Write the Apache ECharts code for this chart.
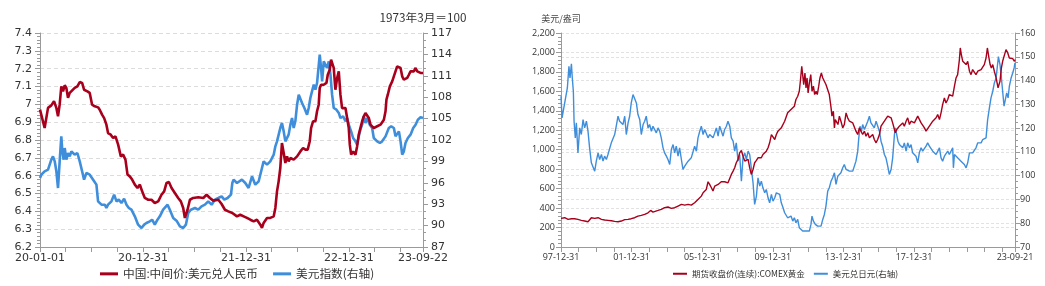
<!DOCTYPE html>
<html><head><meta charset="utf-8">
<script src="https://cdn.jsdelivr.net/npm/echarts@6/dist/echarts.min.js"></script>
<style>html,body{margin:0;padding:0;background:#fff}#c{width:1045px;height:286px}</style>
</head><body><div id="c"></div>
<script>
// ---- Left chart: CNY central parity (left axis) and US dollar index (right axis); x = decimal year
const cnyData = [[2020.00,6.97],[2020.045,6.867],[2020.078,6.98],[2020.11,6.994],[2020.136,7.017],[2020.159,6.98],[2020.175,6.933],[2020.191,6.998],[2020.207,7.101],[2020.224,7.073],[2020.24,7.107],[2020.256,7.092],[2020.272,7.036],[2020.289,7.064],[2020.305,7.073],[2020.337,7.092],[2020.363,7.101],[2020.386,7.125],[2020.409,7.12],[2020.428,7.082],[2020.46,7.073],[2020.483,7.064],[2020.506,6.998],[2020.532,6.989],[2020.564,6.983],[2020.58,6.97],[2020.603,6.942],[2020.623,6.923],[2020.645,6.886],[2020.661,6.839],[2020.687,6.83],[2020.71,6.811],[2020.733,6.82],[2020.759,6.774],[2020.785,6.708],[2020.807,6.718],[2020.83,6.69],[2020.85,6.606],[2020.872,6.596],[2020.895,6.578],[2020.921,6.55],[2020.947,6.531],[2020.97,6.55],[2020.992,6.512],[2021.018,6.475],[2021.051,6.465],[2021.083,6.465],[2021.115,6.447],[2021.148,6.456],[2021.18,6.493],[2021.206,6.512],[2021.229,6.559],[2021.252,6.564],[2021.278,6.531],[2021.31,6.503],[2021.342,6.475],[2021.368,6.456],[2021.391,6.419],[2021.407,6.363],[2021.433,6.409],[2021.456,6.465],[2021.488,6.475],[2021.537,6.479],[2021.586,6.475],[2021.618,6.493],[2021.65,6.475],[2021.683,6.46],[2021.732,6.465],[2021.764,6.441],[2021.796,6.409],[2021.829,6.4],[2021.868,6.391],[2021.913,6.372],[2021.945,6.381],[2021.978,6.372],[2022.01,6.363],[2022.043,6.353],[2022.075,6.344],[2022.107,6.353],[2022.14,6.325],[2022.156,6.307],[2022.172,6.335],[2022.205,6.363],[2022.237,6.363],[2022.27,6.372],[2022.286,6.419],[2022.302,6.512],[2022.318,6.568],[2022.334,6.643],[2022.35,6.783],[2022.367,6.727],[2022.383,6.671],[2022.399,6.708],[2022.415,6.68],[2022.432,6.699],[2022.464,6.69],[2022.497,6.708],[2022.513,6.718],[2022.529,6.736],[2022.555,6.755],[2022.578,6.746],[2022.6,6.746],[2022.62,6.793],[2022.633,6.867],[2022.652,6.905],[2022.675,6.905],[2022.691,6.961],[2022.707,6.998],[2022.717,7.092],[2022.73,7.11],[2022.756,7.11],[2022.782,7.12],[2022.795,7.166],[2022.814,7.194],[2022.827,7.25],[2022.837,7.25],[2022.853,7.204],[2022.869,7.082],[2022.886,7.148],[2022.902,7.185],[2022.918,7.054],[2022.934,6.979],[2022.95,6.97],[2022.967,6.979],[2022.983,6.97],[2022.999,6.867],[2023.009,6.774],[2023.022,6.718],[2023.041,6.736],[2023.064,6.718],[2023.08,6.764],[2023.096,6.83],[2023.112,6.867],[2023.129,6.905],[2023.145,6.933],[2023.161,6.951],[2023.177,6.942],[2023.194,6.923],[2023.21,6.886],[2023.226,6.877],[2023.242,6.867],[2023.275,6.877],[2023.307,6.886],[2023.323,6.886],[2023.34,6.914],[2023.356,6.961],[2023.365,7.026],[2023.378,7.054],[2023.398,7.101],[2023.421,7.129],[2023.437,7.157],[2023.453,7.185],[2023.469,7.213],[2023.486,7.222],[2023.502,7.204],[2023.518,7.157],[2023.534,7.138],[2023.567,7.148],[2023.583,7.166],[2023.599,7.185],[2023.615,7.194],[2023.631,7.185],[2023.648,7.204],[2023.664,7.185],[2023.68,7.194],[2023.696,7.176],[2023.72,7.176]];

const dxyData = [[2020.0,96.67],[2020.013,97.14],[2020.045,97.61],[2020.078,97.84],[2020.11,99.24],[2020.126,99.71],[2020.143,99.01],[2020.159,97.61],[2020.175,95.27],[2020.191,99.01],[2020.207,102.51],[2020.217,100.41],[2020.23,99.24],[2020.24,100.88],[2020.256,99.24],[2020.272,100.18],[2020.289,99.71],[2020.305,100.41],[2020.337,99.94],[2020.363,100.18],[2020.386,99.01],[2020.409,97.61],[2020.428,96.44],[2020.451,97.37],[2020.483,97.14],[2020.516,96.44],[2020.548,95.74],[2020.564,93.40],[2020.597,92.93],[2020.629,92.93],[2020.645,92.47],[2020.661,92.93],[2020.694,93.40],[2020.72,94.34],[2020.743,93.40],[2020.765,93.64],[2020.791,93.17],[2020.817,93.78],[2020.84,92.93],[2020.863,92.47],[2020.888,92.23],[2020.921,91.30],[2020.953,90.13],[2020.986,89.66],[2021.012,90.13],[2021.034,90.36],[2021.067,90.60],[2021.089,90.83],[2021.115,90.13],[2021.141,90.83],[2021.164,91.30],[2021.196,92.23],[2021.213,92.00],[2021.239,92.93],[2021.261,92.23],[2021.294,91.07],[2021.326,90.69],[2021.359,89.90],[2021.391,89.66],[2021.417,90.13],[2021.44,91.77],[2021.466,92.23],[2021.505,92.47],[2021.537,92.23],[2021.569,92.70],[2021.602,92.93],[2021.634,93.40],[2021.667,92.93],[2021.699,93.64],[2021.732,93.87],[2021.764,94.10],[2021.79,93.64],[2021.822,93.87],[2021.855,94.34],[2021.868,95.97],[2021.88,96.44],[2021.913,95.97],[2021.961,96.44],[2021.994,95.97],[2022.026,95.27],[2022.059,96.91],[2022.091,95.74],[2022.124,96.21],[2022.156,98.07],[2022.172,99.01],[2022.205,98.54],[2022.237,99.01],[2022.27,99.94],[2022.286,101.11],[2022.302,101.81],[2022.334,103.68],[2022.35,104.38],[2022.367,103.21],[2022.383,101.81],[2022.415,102.75],[2022.432,104.15],[2022.448,105.08],[2022.464,103.68],[2022.48,104.62],[2022.497,106.95],[2022.513,108.36],[2022.529,108.59],[2022.545,107.19],[2022.568,106.49],[2022.594,105.55],[2022.61,106.49],[2022.626,107.89],[2022.642,108.82],[2022.659,109.76],[2022.675,109.06],[2022.691,109.99],[2022.717,113.96],[2022.73,112.09],[2022.74,110.22],[2022.756,113.03],[2022.772,113.26],[2022.788,112.09],[2022.805,113.03],[2022.821,111.16],[2022.837,108.36],[2022.853,106.49],[2022.879,106.25],[2022.902,105.79],[2022.918,105.08],[2022.944,105.32],[2022.967,104.62],[2022.983,105.08],[2022.999,104.15],[2023.022,103.21],[2023.041,102.28],[2023.064,101.81],[2023.08,101.35],[2023.096,102.51],[2023.112,103.45],[2023.129,104.15],[2023.145,105.32],[2023.161,104.38],[2023.177,105.08],[2023.203,104.15],[2023.226,103.68],[2023.242,102.28],[2023.275,101.81],[2023.301,101.58],[2023.323,101.81],[2023.34,101.58],[2023.356,102.51],[2023.372,102.75],[2023.388,103.68],[2023.411,103.92],[2023.437,103.68],[2023.453,102.51],[2023.469,102.75],[2023.486,103.21],[2023.502,101.81],[2023.518,99.94],[2023.534,100.41],[2023.55,101.58],[2023.573,102.28],[2023.599,102.75],[2023.625,103.68],[2023.648,104.15],[2023.67,104.85],[2023.696,105.18],[2023.72,105.08]];

// ---- Right chart: COMEX gold (left axis, USD/oz) and USD/JPY (right axis)
const goldData = [[1998.0,294],[1998.21,301],[1998.40,284],[1998.59,291],[1998.77,291],[1998.96,284],[1999.15,274],[1999.34,267],[1999.53,260],[1999.62,257],[1999.72,301],[1999.81,284],[1999.91,294],[2000.10,301],[2000.19,284],[2000.29,284],[2000.47,277],[2000.66,274],[2000.85,270],[2001.04,263],[2001.23,260],[2001.42,267],[2001.61,281],[2001.80,284],[2001.98,291],[2002.17,301],[2002.36,318],[2002.55,325],[2002.74,335],[2002.93,352],[2003.08,376],[2003.21,359],[2003.31,363],[2003.50,376],[2003.68,387],[2003.87,404],[2004.06,411],[2004.25,397],[2004.44,404],[2004.63,421],[2004.82,438],[2004.91,445],[2005.01,431],[2005.20,438],[2005.38,431],[2005.57,455],[2005.76,489],[2005.95,523],[2006.05,558],[2006.14,575],[2006.23,592],[2006.33,671],[2006.42,643],[2006.52,609],[2006.61,575],[2006.71,626],[2006.90,643],[2007.08,671],[2007.27,671],[2007.46,660],[2007.56,677],[2007.65,746],[2007.75,780],[2007.84,814],[2007.93,866],[2008.03,900],[2008.12,968],[2008.22,992],[2008.31,934],[2008.41,883],[2008.50,866],[2008.60,900],[2008.69,814],[2008.78,746],[2008.88,797],[2008.97,866],[2009.07,890],[2009.16,917],[2009.26,934],[2009.35,917],[2009.44,951],[2009.54,968],[2009.63,985],[2009.73,1020],[2009.82,1071],[2009.92,1156],[2010.01,1139],[2010.11,1105],[2010.20,1156],[2010.29,1191],[2010.39,1174],[2010.48,1225],[2010.58,1242],[2010.67,1293],[2010.84,1379],[2010.94,1362],[2011.03,1413],[2011.13,1396],[2011.22,1447],[2011.31,1516],[2011.41,1550],[2011.50,1601],[2011.56,1704],[2011.64,1858],[2011.69,1772],[2011.75,1670],[2011.82,1789],[2011.88,1635],[2011.94,1738],[2012.0,1584],[2012.07,1687],[2012.15,1772],[2012.22,1601],[2012.30,1653],[2012.37,1567],[2012.45,1601],[2012.52,1567],[2012.6,1653],[2012.67,1738],[2012.75,1789],[2012.83,1738],[2012.92,1721],[2013.01,1670],[2013.11,1653],[2013.20,1567],[2013.30,1430],[2013.35,1345],[2013.43,1396],[2013.49,1225],[2013.54,1310],[2013.62,1328],[2013.69,1259],[2013.77,1345],[2013.86,1293],[2013.96,1225],[2014.05,1259],[2014.15,1379],[2014.24,1328],[2014.34,1293],[2014.43,1310],[2014.53,1276],[2014.62,1259],[2014.71,1191],[2014.81,1156],[2014.9,1225],[2015.0,1208],[2015.09,1156],[2015.19,1191],[2015.28,1139],[2015.38,1174],[2015.47,1122],[2015.56,1139],[2015.66,1156],[2015.75,1105],[2015.85,1071],[2015.94,1105],[2016.04,1156],[2016.13,1242],[2016.22,1259],[2016.32,1293],[2016.41,1310],[2016.51,1345],[2016.6,1328],[2016.7,1328],[2016.79,1276],[2016.89,1208],[2016.94,1174],[2017.02,1208],[2017.09,1225],[2017.17,1242],[2017.26,1259],[2017.36,1276],[2017.45,1242],[2017.55,1293],[2017.64,1328],[2017.74,1259],[2017.83,1293],[2017.92,1310],[2018.02,1276],[2018.11,1293],[2018.21,1345],[2018.3,1328],[2018.4,1276],[2018.49,1259],[2018.59,1225],[2018.68,1191],[2018.77,1208],[2018.87,1242],[2018.96,1259],[2019.06,1293],[2019.15,1310],[2019.25,1328],[2019.34,1362],[2019.44,1310],[2019.53,1379],[2019.62,1464],[2019.72,1533],[2019.81,1481],[2019.91,1516],[2020.0,1567],[2020.1,1584],[2020.19,1550],[2020.29,1653],[2020.38,1738],[2020.47,1772],[2020.57,1926],[2020.62,2046],[2020.68,1978],[2020.76,1909],[2020.85,1926],[2020.95,1875],[2021.04,1909],[2021.14,1807],[2021.23,1772],[2021.32,1824],[2021.42,1841],[2021.51,1772],[2021.61,1807],[2021.7,1789],[2021.8,1824],[2021.89,1807],[2021.98,1875],[2022.08,1943],[2022.155,2046],[2022.23,1960],[2022.31,1875],[2022.38,1841],[2022.46,1875],[2022.55,1807],[2022.65,1738],[2022.76,1636],[2022.87,1704],[2022.95,1841],[2023.02,1909],[2023.21,2029],[2023.31,1995],[2023.4,1943],[2023.5,1926],[2023.59,1937],[2023.69,1909],[2023.72,1926]];

const jpyData = [[1998.0,133.4],[1998.06,124.3],[1998.21,130.6],[1998.36,136.9],[1998.45,146.0],[1998.51,141.1],[1998.59,147.0],[1998.64,141.1],[1998.70,135.5],[1998.74,122.9],[1998.81,115.9],[1998.87,122.2],[1998.96,109.6],[1999.06,120.1],[1999.15,117.3],[1999.25,123.6],[1999.34,120.1],[1999.44,122.9],[1999.53,118.7],[1999.62,111.7],[1999.72,105.4],[1999.81,104.7],[1999.91,101.9],[2000.0,106.1],[2000.10,109.6],[2000.19,106.8],[2000.29,108.9],[2000.38,106.1],[2000.47,108.2],[2000.57,106.8],[2000.66,108.9],[2000.76,109.6],[2000.85,113.8],[2000.95,114.5],[2001.04,117.3],[2001.13,120.8],[2001.23,125.0],[2001.32,122.9],[2001.42,123.6],[2001.51,121.5],[2001.61,125.0],[2001.70,117.3],[2001.80,122.2],[2001.89,125.0],[2001.98,130.6],[2002.08,134.1],[2002.17,133.4],[2002.27,130.6],[2002.36,125.7],[2002.46,123.6],[2002.55,117.3],[2002.65,121.5],[2002.74,122.9],[2002.83,125.0],[2002.93,120.1],[2003.02,121.5],[2003.12,118.7],[2003.21,120.8],[2003.31,120.1],[2003.40,118.0],[2003.50,120.1],[2003.59,118.7],[2003.68,115.9],[2003.78,111.7],[2003.87,109.6],[2003.97,108.2],[2004.06,106.8],[2004.16,104.7],[2004.25,111.0],[2004.35,113.1],[2004.44,109.6],[2004.53,112.4],[2004.63,108.2],[2004.72,111.7],[2004.82,106.8],[2004.91,102.6],[2005.01,104.0],[2005.10,103.3],[2005.20,106.1],[2005.29,106.1],[2005.38,107.5],[2005.48,108.2],[2005.57,112.4],[2005.67,110.3],[2005.76,115.9],[2005.86,118.7],[2005.95,120.8],[2006.05,117.3],[2006.14,119.4],[2006.23,118.7],[2006.33,115.9],[2006.42,117.3],[2006.52,118.0],[2006.61,115.9],[2006.71,118.0],[2006.80,120.1],[2006.90,116.6],[2006.99,120.8],[2007.08,121.5],[2007.18,116.6],[2007.27,119.4],[2007.37,120.8],[2007.46,122.9],[2007.56,120.8],[2007.65,115.9],[2007.75,114.5],[2007.84,110.3],[2007.93,113.8],[2008.03,106.1],[2008.12,108.9],[2008.22,97.7],[2008.31,107.5],[2008.41,109.6],[2008.50,106.8],[2008.60,110.3],[2008.69,108.9],[2008.78,103.3],[2008.88,97.0],[2008.97,87.9],[2009.07,91.4],[2009.16,99.1],[2009.26,95.6],[2009.35,97.7],[2009.44,94.9],[2009.54,92.8],[2009.63,94.2],[2009.73,90.7],[2009.82,88.6],[2009.92,92.1],[2010.01,89.3],[2010.11,90.7],[2010.20,92.8],[2010.29,93.5],[2010.39,92.1],[2010.48,88.6],[2010.58,86.5],[2010.67,84.4],[2010.84,82.3],[2010.94,81.6],[2011.03,83.0],[2011.13,80.9],[2011.22,82.3],[2011.31,80.2],[2011.41,81.6],[2011.50,78.1],[2011.6,77.4],[2011.69,76.7],[2011.79,77.4],[2011.88,76.7],[2011.98,77.4],[2012.07,76.7],[2012.16,79.5],[2012.22,83.0],[2012.3,80.9],[2012.41,79.5],[2012.54,78.8],[2012.64,78.1],[2012.73,78.8],[2012.83,81.6],[2012.92,83.7],[2013.01,87.2],[2013.11,93.5],[2013.2,94.9],[2013.3,97.7],[2013.39,99.1],[2013.49,101.2],[2013.58,96.3],[2013.68,99.8],[2013.77,100.5],[2013.86,101.2],[2013.96,103.3],[2014.05,104.7],[2014.15,102.6],[2014.24,101.9],[2014.34,101.9],[2014.43,101.9],[2014.53,101.9],[2014.62,102.6],[2014.71,106.1],[2014.81,110.3],[2014.87,115.9],[2014.94,120.8],[2015.02,118.7],[2015.09,121.5],[2015.19,119.4],[2015.28,120.1],[2015.38,122.9],[2015.47,125.0],[2015.56,122.2],[2015.66,121.5],[2015.75,120.1],[2015.85,122.9],[2015.94,123.6],[2016.04,118.7],[2016.13,114.5],[2016.22,112.4],[2016.32,108.9],[2016.41,107.5],[2016.51,104.0],[2016.6,100.5],[2016.7,102.6],[2016.79,107.5],[2016.89,117.3],[2016.94,120.1],[2017.02,117.3],[2017.09,114.5],[2017.17,113.1],[2017.26,113.8],[2017.36,111.7],[2017.45,113.8],[2017.55,110.3],[2017.64,113.8],[2017.74,111.7],[2017.83,113.1],[2017.92,109.6],[2018.02,108.9],[2018.11,108.2],[2018.21,105.4],[2018.3,109.6],[2018.4,111.7],[2018.49,110.3],[2018.59,111.0],[2018.68,112.4],[2018.77,113.8],[2018.87,112.4],[2018.96,111.7],[2019.06,110.3],[2019.15,109.6],[2019.25,108.9],[2019.34,109.6],[2019.44,111.7],[2019.53,107.5],[2019.62,106.1],[2019.72,108.2],[2019.81,108.9],[2019.91,110.3],[2020.0,108.9],[2020.1,109.6],[2020.19,111.7],[2020.23,103.3],[2020.29,108.9],[2020.38,108.2],[2020.47,107.5],[2020.57,106.8],[2020.66,106.1],[2020.76,105.4],[2020.85,104.7],[2020.95,103.3],[2021.04,105.4],[2021.14,109.6],[2021.23,110.3],[2021.32,109.6],[2021.42,110.3],[2021.51,111.7],[2021.61,113.8],[2021.7,114.5],[2021.8,113.8],[2021.89,115.2],[2021.98,115.9],[2022.08,115.9],[2022.17,123.6],[2022.27,128.5],[2022.36,132.7],[2022.46,135.5],[2022.55,139.0],[2022.65,141.1],[2022.78,150.1],[2022.87,146.7],[2022.95,141.1],[2023.02,135.5],[2023.10,129.2],[2023.18,129.9],[2023.25,134.8],[2023.33,132.7],[2023.40,137.6],[2023.5,141.1],[2023.59,143.2],[2023.67,145.3],[2023.72,147.4]];

// ---- Tick labels (value on x axis -> text)
const leftXTicks = [[2020, '20-01-01'], [2021, '20-12-31'], [2022, '21-12-31'], [2023, '22-12-31'], [2023.72, '23-09-22']];
const rightXTicks = [[1998, '97-12-31'], [2002, '01-12-31'], [2006, '05-12-31'], [2010, '09-12-31'], [2014, '13-12-31'], [2018, '17-12-31'], [2023.72, '23-09-21']];
const leftNames = ['中国:中间价:美元兑人民币', '美元指数(右轴)'];
const rightNames = ['期货收盘价(连续):COMEX黄金', '美元兑日元(右轴)'];
const leftUnit = '1973年3月＝100';
const rightUnit = '美元/盎司';

const RED = '#A8001C', BLUE = '#3F8EDB';
const AX = '#9a9a9a';
const CJK = '"Noto Sans CJK SC", sans-serif';

function tickFmt(list) {
  return function (v) {
    for (const [k, s] of list) if (Math.abs(v - k) < 1e-6) return s;
    return '';
  };
}
function thousands(v) { return String(v).replace(/\B(?=(\d{3})+(?!\d))/g, ','); }

const chart = echarts.init(document.getElementById('c'), null, { renderer: 'canvas' });
const numL = { fontFamily: '"DejaVu Sans", sans-serif', fontSize: 11, color: '#333' };
const numR = { fontFamily: '"Open Sans", sans-serif', fontSize: 9, color: '#333' };

chart.setOption({
  animation: false,
  backgroundColor: '#fff',
  grid: [
    { left: 40, right: 622, top: 33, bottom: 39, containLabel: false, outerBoundsMode: 'none' },
    { left: 561, right: 30, top: 33, bottom: 39, containLabel: false, outerBoundsMode: 'none' }
  ],
  legend: [
    { data: leftNames, left: 100, top: 268, padding: 0, icon: 'rect', itemWidth: 18, itemHeight: 3, itemGap: 15,
      textStyle: { fontFamily: CJK, fontSize: 11.7, color: '#333' }, selectedMode: false },
    { data: rightNames, left: 673, top: 269.5, padding: 0, icon: 'rect', itemWidth: 14, itemHeight: 2, itemGap: 9,
      textStyle: { fontFamily: CJK, fontSize: 8.5, color: '#333' }, selectedMode: false }
  ],
  xAxis: [
    { type: 'value', gridIndex: 0, min: 2020, max: 2023.72, interval: 0.25,
      axisLine: { show: true, lineStyle: { color: AX } },
      axisTick: { show: true, length: 5, inside: false, lineStyle: { color: AX } },
      axisLabel: Object.assign({ formatter: tickFmt(leftXTicks), margin: 6, showMinLabel: true, showMaxLabel: true, hideOverlap: false }, numL),
      splitLine: { show: false } },
    { type: 'value', gridIndex: 1, min: 1998, max: 2023.72, interval: 1,
      axisLine: { show: true, lineStyle: { color: AX } },
      axisTick: { show: true, length: 5, inside: false, lineStyle: { color: AX } },
      axisLabel: Object.assign({ formatter: tickFmt(rightXTicks), margin: 6, showMinLabel: true, showMaxLabel: true, hideOverlap: false }, numR),
      splitLine: { show: false } }
  ],
  yAxis: [
    { type: 'value', gridIndex: 0, position: 'left', min: 6.2, max: 7.4, interval: 0.1,
      axisLine: { show: true, lineStyle: { color: AX } },
      axisTick: { show: true, length: 5, lineStyle: { color: AX } },
      minorTick: { show: true, splitNumber: 5, length: 3, lineStyle: { color: AX } },
      axisLabel: Object.assign({ margin: 8 }, numL),
      splitLine: { show: true, lineStyle: { color: '#dcdcdc', type: [4, 3], width: 1 } } },
    { type: 'value', gridIndex: 0, position: 'right', min: 87, max: 117, interval: 3,
      name: leftUnit, nameLocation: 'end', nameGap: 15,
      nameTextStyle: { fontFamily: CJK, fontSize: 11.7, color: '#333', align: 'center', verticalAlign: 'middle' },
      axisLine: { show: true, lineStyle: { color: AX } },
      axisTick: { show: true, length: 5, lineStyle: { color: AX } },
      minorTick: { show: true, splitNumber: 3, length: 3, lineStyle: { color: AX } },
      axisLabel: Object.assign({ margin: 8 }, numL),
      splitLine: { show: false } },
    { type: 'value', gridIndex: 1, position: 'left', min: 0, max: 2200, interval: 200,
      name: rightUnit, nameLocation: 'end', nameGap: 14,
      nameTextStyle: { fontFamily: CJK, fontSize: 9, color: '#444', align: 'center', verticalAlign: 'middle' },
      axisLine: { show: true, lineStyle: { color: AX } },
      axisTick: { show: true, length: 5, lineStyle: { color: AX } },
      minorTick: { show: true, splitNumber: 5, length: 3, lineStyle: { color: AX } },
      axisLabel: Object.assign({ margin: 6, formatter: thousands }, numR),
      splitLine: { show: true, lineStyle: { color: '#e2e2e2', type: [3, 2], width: 1 } } },
    { type: 'value', gridIndex: 1, position: 'right', min: 70, max: 160, interval: 10,
      axisLine: { show: true, lineStyle: { color: AX } },
      axisTick: { show: true, length: 5, lineStyle: { color: AX } },
      minorTick: { show: true, splitNumber: 4, length: 3, lineStyle: { color: AX } },
      axisLabel: Object.assign({ margin: 5 }, numR),
      splitLine: { show: true, lineStyle: { color: '#e2e2e2', type: [3, 2], width: 1 } } }
  ],
  series: [
    { name: leftNames[1], type: 'line', xAxisIndex: 0, yAxisIndex: 1, data: dxyData, symbol: 'none',
      lineStyle: { color: BLUE, width: 2.6 }, itemStyle: { color: BLUE } },
    { name: leftNames[0], type: 'line', xAxisIndex: 0, yAxisIndex: 0, data: cnyData, symbol: 'none',
      lineStyle: { color: RED, width: 2.6 }, itemStyle: { color: RED } },
    { name: rightNames[1], type: 'line', xAxisIndex: 1, yAxisIndex: 3, data: jpyData, symbol: 'none',
      lineStyle: { color: BLUE, width: 1.4 }, itemStyle: { color: BLUE } },
    { name: rightNames[0], type: 'line', xAxisIndex: 1, yAxisIndex: 2, data: goldData, symbol: 'none',
      lineStyle: { color: RED, width: 1.4 }, itemStyle: { color: RED } }
  ]
});
</script>
</body></html>
